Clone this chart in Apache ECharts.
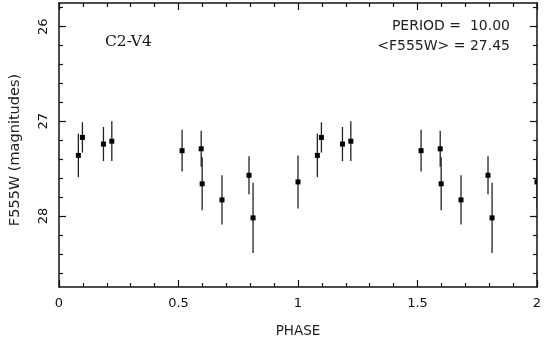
<!DOCTYPE html>
<html>
<head>
<meta charset="utf-8">
<script src="https://cdn.jsdelivr.net/npm/echarts@6/dist/echarts.min.js"></script>
<style>
  html, body { margin: 0; padding: 0; background: #fff; }
  #chart { width: 549px; height: 351px; }
</style>
</head>
<body>
<div id="chart"></div>
<script>
// one cycle of the folded light curve
const phase = [0.081, 0.098, 0.186, 0.221, 0.515, 0.595, 0.599, 0.682, 0.795, 0.812, 1.0]
const mag = [27.36, 27.17, 27.24, 27.21, 27.31, 27.29, 27.66, 27.83, 27.57, 28.02, 27.64]
const magErr = [0.23, 0.16, 0.18, 0.21, 0.22, 0.19, 0.28, 0.26, 0.20, 0.37, 0.28]

const yTicks = [26, 27, 28]
const yMinorTicks = [25.8, 26.2, 26.4, 26.6, 26.8, 27.2, 27.4, 27.6, 27.8, 28.2, 28.4, 28.6]

const starName = 'C2-V4'
const periodText = 'PERIOD =  10.00'
const meanText = '<F555W> = 27.45'

// the curve is drawn twice: phase and phase + 1
const points = []
phase.forEach((p, i) => points.push([p, mag[i], magErr[i]]))
phase.forEach((p, i) => points.push([p + 1, mag[i], magErr[i]]))

const ink = '#111'
const font = 'DejaVu Sans'

const chart = echarts.init(document.getElementById('chart'))

const xBase = {
  type: 'value',
  min: 0,
  max: 2,
  interval: 0.5,
  splitLine: { show: false },
  axisLine: { show: true, onZero: false, lineStyle: { color: ink, width: 1.5 } },
  axisTick: { show: true, inside: true, length: 7, lineStyle: { color: ink, width: 1.2 } },
  minorTick: { show: true, splitNumber: 5, length: 4, lineStyle: { color: ink, width: 1.2 } }
}

const yBase = {
  type: 'value',
  min: 25.75,
  max: 28.75,
  inverse: true,
  splitLine: { show: false },
  axisLabel: { show: false }
}

const majorY = (pos, labels) => Object.assign({}, yBase, {
  position: pos,
  axisLine: { show: true, onZero: false, lineStyle: { color: ink, width: 1.5 } },
  axisTick: { show: true, inside: true, length: 7, customValues: yTicks, lineStyle: { color: ink, width: 1.2 } },
  axisLabel: labels
    ? { show: true, customValues: yTicks, rotate: 90, margin: 9, fontSize: 13, fontFamily: font, color: ink }
    : { show: false }
})

const minorY = pos => Object.assign({}, yBase, {
  position: pos,
  axisLine: { show: false, onZero: false },
  axisTick: { show: true, inside: true, length: 4, customValues: yMinorTicks, lineStyle: { color: ink, width: 1.2 } }
})

const option = {
  backgroundColor: '#fff',
  animation: false,
  grid: { left: 57, right: 12, top: 3, bottom: 64 },
  xAxis: [
    Object.assign({}, xBase, {
      position: 'bottom',
      axisLabel: { fontSize: 13, fontFamily: font, color: ink, margin: 10 },
      name: 'PHASE',
      nameLocation: 'middle',
      nameGap: 37,
      nameTextStyle: { fontSize: 13.5, fontFamily: font, color: '#222' }
    }),
    Object.assign({}, xBase, { position: 'top', axisLabel: { show: false } })
  ],
  yAxis: [
    Object.assign(majorY('left', true), {
      name: 'F555W (magnitudes)',
      nameLocation: 'middle',
      nameRotate: 90,
      nameGap: 36,
      nameTextStyle: { fontSize: 14.5, fontFamily: font, color: '#222', padding: [0, 10, 0, 0] }
    }),
    minorY('left'),
    majorY('right', false),
    minorY('right')
  ],
  graphic: [
    {
      type: 'text', left: 105, top: 34,
      style: { text: starName, font: '15.5px "DejaVu Serif"', fill: ink }
    },
    {
      type: 'text', right: 39, top: 19,
      style: { text: periodText, font: '14px "DejaVu Sans"', fill: '#222' }
    },
    {
      type: 'text', right: 39, top: 39,
      style: { text: meanText, font: '14px "DejaVu Sans"', fill: '#222' }
    }
  ],
  series: [
    {
      type: 'custom',
      xAxisIndex: 0,
      yAxisIndex: 0,
      clip: true,
      data: points,
      renderItem: function (params, api) {
        const x = api.value(0)
        const y = api.value(1)
        const e = api.value(2)
        const top = api.coord([x, y - e])
        const bot = api.coord([x, y + e])
        const c = api.coord([x, y])
        return {
          type: 'group',
          children: [
            {
              type: 'line',
              shape: { x1: top[0], y1: top[1], x2: bot[0], y2: bot[1] },
              style: { stroke: '#222', lineWidth: 1.3 }
            },
            {
              type: 'rect',
              shape: { x: c[0] - 2.5, y: c[1] - 2.5, width: 5, height: 5 },
              style: { fill: '#000' }
            }
          ]
        }
      }
    }
  ]
}

chart.setOption(option)
</script>
</body>
</html>
